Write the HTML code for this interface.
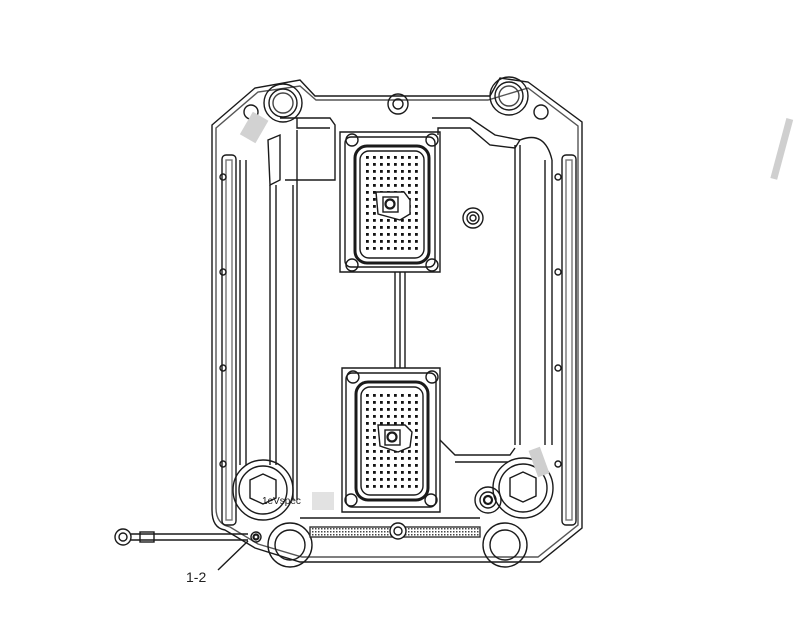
<!DOCTYPE html>
<html><head><meta charset="utf-8"><style>
html,body{margin:0;padding:0;background:#fff;}
svg{display:block;}
text{font-family:"Liberation Sans",sans-serif;}
</style></head><body>
<svg width="799" height="625" viewBox="0 0 799 625" xmlns="http://www.w3.org/2000/svg">
<defs>
<pattern id="pins" x="0" y="0" width="7" height="7" patternUnits="userSpaceOnUse">
<rect x="2" y="2" width="2.8" height="2.8" fill="#111"/>
</pattern>
<pattern id="hatch" width="3" height="3" patternUnits="userSpaceOnUse">
<rect width="3" height="3" fill="#fff"/><rect width="1.5" height="1.5" fill="#444"/>
</pattern>
</defs>
<g fill="none" stroke="#1a1a1a" stroke-width="1.4">
<path d="M212 125 L255 88 L300 80 L315 96 L490 96 L500 78 L528 82 L582 122 L582 528 L540 562 L300 562 L255 548 L225 530 Q212 528 212 510 Z"/>
<path d="M216 128 L258 92 L300 86 L316 100 L488 100 L528 88 L578 126 L578 525 L538 557 L302 557 L258 544 L230 527 Q216 524 216 508 Z" stroke="#555"/>
<rect x="222" y="155" width="14" height="370" rx="4"/>
<rect x="226" y="160" width="6" height="360" stroke="#777"/>
<path d="M240 160 L240 465 M246 160 L246 465"/>
<path d="M270 185 L270 465 M276 185 L276 465 M293 185 L293 500 M297 130 L297 500"/>
<path d="M268 140 L280 135 L280 180 L270 185 Z"/>
<path d="M280 118 L330 118 L335 125 L335 180 L285 180"/>
<path d="M297 118 L297 128 L330 128"/>
<rect x="562" y="155" width="14" height="370" rx="4"/>
<rect x="566" y="160" width="6" height="360" stroke="#777"/>
<path d="M545 160 L545 445 M552 160 L552 445 M515 145 L515 445 M520 145 L520 445"/>
<path d="M432 118 L470 118 L495 135 L520 140 L515 148 L490 145 L470 128 L438 128 L438 135"/>
<path d="M520 140 Q545 130 552 160"/>
<circle cx="283" cy="103" r="19"/><circle cx="283" cy="103" r="14"/><circle cx="283" cy="103" r="10" stroke="#444"/>
<circle cx="509" cy="96" r="19"/><circle cx="509" cy="96" r="14"/><circle cx="509" cy="96" r="10" stroke="#444"/>
<circle cx="251" cy="112" r="7"/><circle cx="541" cy="112" r="7"/>
<circle cx="398" cy="104" r="10"/><circle cx="398" cy="104" r="5"/>
<circle cx="223" cy="177" r="3"/><circle cx="223" cy="272" r="3"/><circle cx="223" cy="368" r="3"/><circle cx="223" cy="464" r="3"/>
<circle cx="558" cy="177" r="3"/><circle cx="558" cy="272" r="3"/><circle cx="558" cy="368" r="3"/><circle cx="558" cy="464" r="3"/>
<path d="M340 132 L440 132 L440 272 L340 272 Z"/>
<rect x="345" y="137" width="90" height="130" rx="6"/>
<rect x="355" y="146" width="74" height="117" rx="12" stroke-width="3"/>
<rect x="360" y="151" width="64" height="107" rx="9"/>
<rect x="364" y="156" width="56" height="98" fill="url(#pins)" stroke="none"/>
<path d="M376 192 L404 192 L410 200 L410 214 L400 220 L378 214 Z" fill="#fff"/>
<rect x="383" y="197" width="15" height="15" fill="#fff"/><circle cx="390" cy="204" r="4.5" stroke-width="2.2"/>
<circle cx="352" cy="140" r="6"/><circle cx="432" cy="140" r="6"/><circle cx="352" cy="265" r="6"/><circle cx="432" cy="265" r="6"/>
<circle cx="473" cy="218" r="10"/><circle cx="473" cy="218" r="6"/><circle cx="473" cy="218" r="3"/>
<path d="M395 272 L395 368 M400 272 L400 368 M405 272 L405 368"/>
<path d="M342 368 L440 368 L440 512 L342 512 Z"/>
<rect x="346" y="373" width="90" height="134" rx="6"/>
<rect x="356" y="382" width="72" height="118" rx="12" stroke-width="3"/>
<rect x="361" y="387" width="62" height="108" rx="9"/>
<rect x="365" y="392" width="54" height="98" fill="url(#pins)" stroke="none"/>
<path d="M378 425 L405 425 L412 432 L410 447 L398 452 L380 446 Z" fill="#fff"/>
<rect x="385" y="430" width="15" height="15" fill="#fff"/><circle cx="392" cy="437" r="4.5" stroke-width="2.2"/>
<circle cx="353" cy="377" r="6"/><circle cx="432" cy="377" r="6"/><circle cx="351" cy="500" r="6"/><circle cx="431" cy="500" r="6"/>
<path d="M440 440 L455 455 L510 455 L515 448 M455 462 L508 462"/>
<circle cx="263" cy="490" r="30"/><circle cx="263" cy="490" r="24"/>
<path d="M250 480 L263 474 L276 480 L276 498 L263 504 L250 498 Z"/>
<circle cx="523" cy="488" r="30"/><circle cx="523" cy="488" r="24"/>
<path d="M510 478 L523 472 L536 478 L536 496 L523 502 L510 496 Z"/>
<circle cx="488" cy="500" r="13"/><circle cx="488" cy="500" r="8"/><circle cx="488" cy="500" r="4" stroke-width="2.2"/>
<circle cx="290" cy="545" r="22"/><circle cx="290" cy="545" r="15"/>
<circle cx="505" cy="545" r="22"/><circle cx="505" cy="545" r="15"/>
<rect x="310" y="527" width="170" height="10" fill="url(#hatch)" stroke="#333"/>
<circle cx="398" cy="531" r="8" fill="#fff"/><circle cx="398" cy="531" r="4"/>
<path d="M300 518 L480 518"/>
<circle cx="123" cy="537" r="8"/><circle cx="123" cy="537" r="4"/>
<path d="M131 534 L248 534 M131 540 L248 540"/>
<rect x="140" y="532" width="14" height="10"/>
<circle cx="256" cy="537" r="5"/><circle cx="256" cy="537" r="2.5" stroke-width="2.2"/>
<path d="M248 541 L218 570"/>
</g>
<text x="186" y="582" font-size="14" fill="#222">1-2</text>
<text x="262" y="504" font-size="10" fill="#222" font-family="Liberation Mono,monospace">1eVspec</text>
<rect x="312" y="492" width="22" height="18" fill="#e2e2e2"/>
<rect x="245" y="115" width="18" height="26" fill="#d2d2d2" transform="rotate(30 255 128)"/>
<rect x="533" y="448" width="12" height="28" fill="#cfcfcf" transform="rotate(-20 539 462)"/>
<rect x="778" y="118" width="7" height="62" fill="#cfcfcf" transform="rotate(15 782 150)"/>
</svg>
</body></html>
